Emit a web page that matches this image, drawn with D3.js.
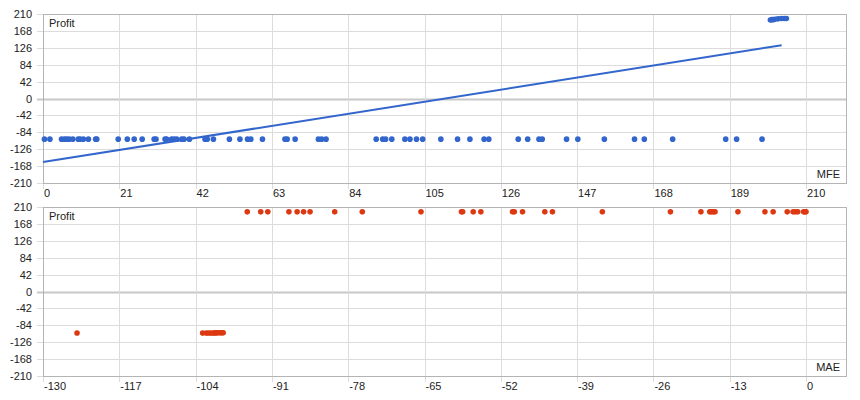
<!DOCTYPE html>
<html>
<head>
<meta charset="utf-8">
<script src="https://cdn.jsdelivr.net/npm/d3@7"></script>
<style>
    body { margin: 0; background: #fff; }
    text { font-family: "Liberation Sans", Arial, sans-serif; font-size: 11px; fill: #222; }
</style>
</head>
<body>
<script>
// MFE of losing trades (profit read as about -101)
var mfeLossX = [0.4, 1.9, 5.1, 5.9, 6.5, 7.2, 8.2, 9.7, 10.2, 11.1, 12.5, 14.5, 14.8,
    20.7, 23.2, 25.1, 27.3, 30.6, 31.1, 33.6, 34.0, 35.4, 36.1, 36.8, 38.2, 38.8, 40.3,
    44.6, 45.2, 46.9, 51.3, 54.2, 56.3, 57.2, 60.4, 66.6, 67.2, 69.4, 75.8, 76.7, 77.9,
    91.7, 93.5, 94.3, 96.0, 99.6, 101.0, 102.8, 104.5, 109.5, 114.1, 117.5, 121.4, 122.7,
    130.8, 133.4, 136.5, 137.4, 144.1, 147.2, 154.5, 162.8, 165.5, 173.3, 187.9, 190.9, 197.9];
var mfeLossProfit = -101;

// MFE / profit of winning trades (top right cluster)
var mfeWinX = [200.2, 200.6, 201.0, 201.5, 202.3, 203.2, 204.0, 204.6];
var mfeWinProfit = [195, 196, 196, 197, 198, 199, 199, 199];

// trend line end points
var trendX = [0, 203.3];
var trendY = [-158, 132.5];

// MAE of winning trades (profit about 198)
var maeWinX = [-95.2, -92.9, -91.7, -88.1, -86.7, -85.6, -84.5, -80.3, -75.6, -65.6,
    -58.7, -58.5, -56.7, -55.4, -50.0, -49.7, -48.3, -44.5, -43.2, -34.7, -23.1,
    -17.9, -16.4, -16.1, -15.8, -15.5, -11.6, -7.0, -5.6, -3.2, -2.2, -1.8, -1.4,
    -0.4, -0.2, 0];
var maeWinProfit = 198;

// MAE / profit of losing trades
var maeLossX = [-124.2, -102.8, -102.2, -101.8, -101.4, -101.0, -100.7, -100.4, -100.1, -99.8, -99.5, -99.3];
var maeLossProfit = [-103, -103.4, -103.3, -103.2, -103.1, -103, -102.9, -102.8, -102.7, -102.6, -102.5, -102.4];

// tick values
var profitTicks = [-210, -168, -126, -84, -42, 0, 42, 84, 126, 168, 210];
var mfeTicks = [0, 21, 42, 63, 84, 105, 126, 147, 168, 189, 210];
var maeTicks = [-130, -117, -104, -91, -78, -65, -52, -39, -26, -13, 0];

window.onload = function() {
    var w = 860, h = 400;
    var left = 43, right = 846;

    var svg = d3.select("body")
        .append("svg")
        .attr("width", w)
        .attr("height", h);

    // draws one panel: frame, grid, tick labels and axis titles
    function panel(top, bottom, xTicks, xName) {
        var x = d3.scaleLinear()
            .domain([xTicks[0], xTicks[xTicks.length - 1]])
            .range([left, 806]);
        var y = d3.scaleLinear()
            .domain([-210, 210])
            .range([bottom, top]);

        var g = svg.append("g");

        // horizontal grid
        g.selectAll(".hgrid")
            .data(profitTicks)
            .enter()
            .append("line")
            .attr("x1", left - 6)
            .attr("x2", right)
            .attr("y1", function(d) { return Math.round(y(d)) + 0.5; })
            .attr("y2", function(d) { return Math.round(y(d)) + 0.5; })
            .style("stroke", function(d) { return d === 0 ? "#c8c8c8" : "#dcdcdc"; })
            .style("stroke-width", function(d) { return d === 0 ? 2 : 1; });

        // vertical grid
        g.selectAll(".vgrid")
            .data(xTicks)
            .enter()
            .append("line")
            .attr("x1", function(d) { return Math.round(x(d)) + 0.5; })
            .attr("x2", function(d) { return Math.round(x(d)) + 0.5; })
            .attr("y1", top)
            .attr("y2", bottom + 6)
            .style("stroke", "#dcdcdc");

        // frame
        g.append("rect")
            .attr("x", left + 0.5)
            .attr("y", Math.round(top) + 0.5)
            .attr("width", right - left)
            .attr("height", Math.round(bottom) - Math.round(top))
            .style("fill", "none")
            .style("stroke", "#b4b4b4");

        // y labels
        g.selectAll(".ylab")
            .data(profitTicks)
            .enter()
            .append("text")
            .attr("x", 32)
            .attr("y", function(d) { return y(d) + 4; })
            .attr("text-anchor", "end")
            .text(function(d) { return d; });

        // x labels
        g.selectAll(".xlab")
            .data(xTicks)
            .enter()
            .append("text")
            .attr("x", function(d) { return x(d) + 1; })
            .attr("y", bottom + 14)
            .text(function(d) { return d; });

        g.append("text")
            .attr("x", left + 6)
            .attr("y", top + 13)
            .text("Profit");
        g.append("text")
            .attr("x", right - 6)
            .attr("y", bottom - 5)
            .attr("text-anchor", "end")
            .text(xName);

        return { x: x, y: y, g: g };
    }

    // top panel: MFE vs profit
    var p1 = panel(14, 183, mfeTicks, "MFE");
    var blue = "#3366cc";

    p1.g.append("line")
        .attr("x1", p1.x(trendX[0]))
        .attr("y1", p1.y(trendY[0]))
        .attr("x2", p1.x(trendX[1]))
        .attr("y2", p1.y(trendY[1]))
        .style("stroke", blue)
        .style("stroke-width", 2);

    p1.g.selectAll(".loss")
        .data(mfeLossX)
        .enter()
        .append("circle")
        .attr("cx", function(d) { return p1.x(d); })
        .attr("cy", p1.y(mfeLossProfit))
        .attr("r", 2.8)
        .style("fill", blue);

    p1.g.selectAll(".win")
        .data(mfeWinX)
        .enter()
        .append("circle")
        .attr("cx", function(d) { return p1.x(d); })
        .attr("cy", function(d, i) { return p1.y(mfeWinProfit[i]); })
        .attr("r", 2.8)
        .style("fill", blue);

    // bottom panel: MAE vs profit
    var p2 = panel(207, 376, maeTicks, "MAE");
    var red = "#dc3912";

    p2.g.selectAll(".win")
        .data(maeWinX)
        .enter()
        .append("circle")
        .attr("cx", function(d) { return p2.x(d); })
        .attr("cy", p2.y(maeWinProfit))
        .attr("r", 2.8)
        .style("fill", red);

    p2.g.selectAll(".loss")
        .data(maeLossX)
        .enter()
        .append("circle")
        .attr("cx", function(d) { return p2.x(d); })
        .attr("cy", function(d, i) { return p2.y(maeLossProfit[i]); })
        .attr("r", 2.8)
        .style("fill", red);
};
</script>
</body>
</html>
